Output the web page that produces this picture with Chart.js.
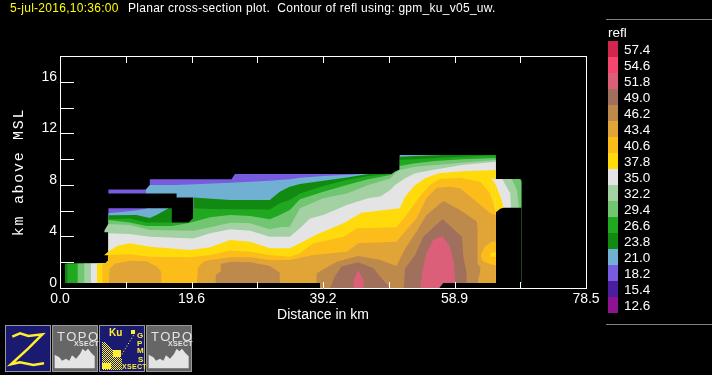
<!DOCTYPE html>
<html lang="en">
<head>
  <meta charset="UTF-8">
  <title>Planar cross-section</title>
  <script src="https://cdn.jsdelivr.net/npm/chart.js"></script>
  <style>
    html, body { margin: 0; background: #000; overflow: hidden; }
    canvas { display: block; }
  </style>
</head>
<body>
  <canvas id="xsect" width="712" height="375"></canvas>

  <script>
    // contour band tops as [distance km, height km]
    const purple18Top = [[7.2,7.65],[13.3,7.65],[13.4,8.43],[25.6,8.43],[26.1,8.84],[46.3,8.84]];
    const blue21Top = [[12.8,7.65],[13.4,7.99],[17.4,7.99],[25.4,8.17],[31.3,8.33],[34.3,8.43],[35.8,8.56],[39.3,8.69],[43.3,8.79],[44.8,8.84],[50.7,8.84],[50.7,10.32],[57.2,10.32]];
    const green23Top = [[19.9,7.03],[25.4,6.83],[31.3,6.83],[32.8,7.47],[34.3,7.86],[35.8,8.06],[39.3,8.33],[42.8,8.58],[46.0,8.84],[50.7,8.84],[50.7,10.19],[53.0,10.24],[57.2,10.32],[65.05,10.32]];
    const noDataUpper = [[7.15,7.34],[17.4,7.34],[17.4,7.03],[19.9,7.03]];
    const purple18Low = [[7.2,6.18],[13.4,6.18]];
    const blue21Low = [[7.2,5.79],[10.9,6.0],[13.4,6.18],[16.2,6.18]];
    const green23Low = [[7.2,5.64],[11.4,5.66],[13.4,5.43],[14.4,5.66],[16.2,6.18],[16.7,6.18]];
    const green26Top = [[7.2,5.33],[10.4,5.4],[12.9,5.09],[19.2,5.09],[19.9,5.46],[19.9,6.18],[22.4,6.13],[31.3,6.1],[32.8,6.57],[34.3,6.83],[35.8,7.34],[39.3,7.91],[42.8,8.38],[46.0,8.69],[49.3,8.84],[50.7,8.84],[50.7,9.93],[53.5,10.0],[57.5,10.13],[65.05,10.29]];
    const light29Top = [[7.2,5.28],[10.4,5.09],[12.9,4.81],[16.7,4.81],[19.4,5.07],[22.4,5.48],[25.4,5.66],[28.4,5.58],[31.3,5.33],[32.8,5.66],[34.3,6.05],[35.8,6.88],[39.3,7.47],[42.8,7.99],[46.0,8.43],[49.3,8.77],[50.0,9.03],[50.7,9.2],[50.7,9.46],[53.0,9.67],[56.0,9.85],[60.0,9.98],[65.05,10.09]];
    const pale32Top = [[6.6,4.45],[7.2,4.97],[10.4,4.89],[13.4,4.5],[19.9,4.45],[22.4,4.71],[25.4,5.07],[28.4,5.02],[31.3,4.55],[32.8,4.71],[34.3,4.76],[35.8,6.18],[39.3,6.96],[42.8,7.34],[46.0,7.99],[49.3,8.5],[50.0,8.9],[50.7,9.15],[53.0,9.41],[56.0,9.54],[60.0,9.72],[65.05,9.93]];
    const noDataTipHigh = [[6.5,4.32],[7.2,4.32]];
    const stripGreen23 = [[65.05,8.46],[68.9,8.46]];
    const stripLight29 = [[65.05,8.46],[68.6,8.46],[68.9,8.25]];
    const stripPale32 = [[65.05,8.46],[67.4,8.46],[68.2,7.6],[68.5,6.2]];
    const stripWhite35 = [[65.05,8.46],[66.0,8.46],[67.2,7.34],[67.3,6.2]];
    const white35Top = [[7.2,4.24],[10.4,4.19],[13.4,3.98],[19.9,3.85],[22.4,4.24],[25.4,4.55],[28.4,4.45],[31.3,3.98],[34.3,3.98],[35.8,4.63],[37.3,5.4],[39.3,5.66],[42.8,6.44],[46.0,6.96],[47.8,7.09],[49.3,7.6],[50.0,7.99],[51.5,8.51],[53.0,8.9],[56.0,9.2],[60.0,9.54],[65.05,9.8]];
    const yellow38Top = [[6.6,2.56],[7.2,2.82],[8.5,3.26],[10.4,3.47],[13.4,3.21],[19.4,2.95],[22.4,3.16],[25.4,3.72],[28.4,3.59],[31.3,3.08],[34.3,3.08],[35.8,3.47],[38.3,4.16],[42.3,5.02],[45.0,5.84],[50.7,6.18],[51.5,7.09],[53.0,7.99],[54.5,8.51],[56.5,8.9],[60.0,9.05],[65.05,9.15],[65.05,7.99],[65.9,6.83],[66.2,6.22]];
    const whiteTip35 = [[64.4,8.5],[65.05,8.46]];
    const yellowUnderTip = [[64.4,8.48],[65.05,7.99]];
    const noDataTipLow = [[6.5,2.54],[7.2,2.54]];
    const noDataRight = [[65.05,5.87],[65.7,6.15],[66.2,6.22],[68.9,6.22]];
    const leftGreen23 = [[0.75,1.91],[7.2,1.91]];
    const leftGreen26 = [[1.1,1.91],[7.2,1.91]];
    const leftLight29 = [[2.6,1.91],[7.2,1.91]];
    const leftPale32 = [[3.6,1.91],[7.2,1.91]];
    const leftWhite35 = [[4.6,1.91],[7.2,1.91]];
    const leftYellow38 = [[5.5,1.91],[7.2,1.91]];
    const leftOrange41 = [[6.3,1.91],[6.7,1.91],[7.1,2.12],[7.2,2.12]];
    const orange41Top = [[7.2,2.56],[10.4,2.61],[13.4,2.43],[19.4,2.38],[22.4,2.56],[25.4,2.9],[28.4,2.82],[31.3,2.56],[34.3,2.43],[35.8,2.69],[37.8,3.47],[42.3,3.98],[44.3,4.63],[50.2,4.71],[51.5,5.53],[53.7,7.09],[55.2,7.99],[56.7,8.46],[59.7,8.56],[62.7,8.25],[64.2,7.34],[65.05,5.87]];
    const tan43Top = [[7.3,0.3],[7.4,1.5],[8.2,1.88],[10.4,2.12],[12.9,2.07],[14.4,1.66],[15.1,1.27],[15.1,0.3],[20.4,0.3],[20.6,1.6],[21.4,2.04],[22.4,2.17],[25.4,2.38],[28.4,2.38],[31.3,2.17],[34.3,2.17],[37.8,2.56],[42.8,2.82],[44.5,3.47],[50.2,3.59],[51.7,4.5],[53.2,5.4],[54.7,6.96],[56.2,7.78],[58.2,7.86],[59.7,7.73],[62.2,6.7],[64.2,5.79],[65.05,5.66]];
    const brown46Top = [[23.2,0.3],[23.2,1.01],[23.9,1.27],[24.0,1.86],[25.4,2.04],[28.4,1.99],[31.3,1.71],[32.8,1.19],[32.8,0.3],[38.3,0.3],[38.3,1.14],[41.3,2.04],[44.5,2.48],[47.8,2.17],[50.2,1.71],[51.5,3.05],[53.2,4.37],[54.7,5.66],[57.2,6.75],[59.7,6.05],[62.2,5.15],[62.3,4.5],[62.3,1.92],[62.8,1.53],[62.8,0.1]];
    const bubbleOrangeTop = [[62.8,2.56],[63.4,3.21],[64.4,3.59],[65.05,3.59]];
    const bubbleYellowTop = [[64.2,2.69],[65.05,2.82]];
    const bubbleOrangeLow = [[64.2,2.43],[65.05,2.43]];
    const bubbleTanLow = [[62.2,0.1],[62.8,1.53],[62.8,2.43],[63.2,2.04],[64.7,1.78],[65.05,1.78]];
    const mauve49Top = [[40.3,0],[41.0,0.88],[42.0,1.66],[44.5,1.99],[46.8,1.53],[47.8,0.88],[49.3,0],[51.3,0],[51.5,1.53],[53.0,2.56],[54.2,3.98],[57.1,5.35],[60.0,3.98],[60.2,2.43],[60.7,1.14],[60.7,0]];
    const pink52Top = [[43.8,0],[43.8,0.62],[44.5,1.4],[45.3,0.62],[45.3,0],[53.8,0],[54.0,1.14],[54.7,2.69],[55.7,3.72],[57.1,4.04],[58.2,3.21],[58.8,1.91],[59.0,0]];
    const noDataFloorLeft = [[0,0.38],[38.8,0.38]];
    const noDataFloorRight = [[56.6,0],[57.2,0.38],[78.5,0.38]];

    const legendValues = ['57.4','54.6','51.8','49.0','46.2','43.4','40.6','37.8','35.0','32.2','29.4','26.6','23.8','21.0','18.2','15.4','12.6'];
    const legendColors = ['#d0284c','#f4466f','#dc5f7a','#a0705c','#bd8a4c','#e0a437','#fcbd1b','#ffdb0c','#e4e4e4','#a3d1a3','#72c672','#20a820','#128a12','#6fb0d3','#795be0','#4a1f9f','#8d1393'];
    const xTickValues = [0,9.81,19.63,29.44,39.25,49.06,58.88,68.69,78.5];
    const xTickLabels = ['0.0','','19.6','','39.2','','58.9','','78.5'];
    const yTickValues = [0,2,4,6,8,10,12,14,16];
    const yTickLabels = ['0','','4','','8','','12','','16'];

    const color = v => legendColors[legendValues.indexOf(v)];
    const black = '#000';

    // painted in this order, each one filled down to the floor over the last
    const layers = [
      [purple18Top, color('18.2')], [blue21Top, color('21.0')], [green23Top, color('23.8')],
      [noDataUpper, black],
      [purple18Low, color('18.2')], [blue21Low, color('21.0')], [green23Low, color('23.8')],
      [green26Top, color('26.6')], [light29Top, color('29.4')], [pale32Top, color('32.2')],
      [noDataTipHigh, black],
      [stripGreen23, color('23.8')], [stripLight29, color('29.4')], [stripPale32, color('32.2')],
      [white35Top, color('35.0')], [stripWhite35, color('35.0')], [yellow38Top, color('37.8')],
      [whiteTip35, color('35.0')], [yellowUnderTip, color('37.8')],
      [noDataTipLow, black], [noDataRight, black],
      [leftGreen23, color('23.8')], [leftGreen26, color('26.6')], [leftLight29, color('29.4')],
      [leftPale32, color('32.2')], [leftWhite35, color('35.0')], [leftYellow38, color('37.8')],
      [leftOrange41, color('40.6')], [orange41Top, color('40.6')], [tan43Top, color('43.4')],
      [brown46Top, color('46.2')], [bubbleOrangeTop, color('40.6')], [bubbleYellowTop, color('37.8')],
      [bubbleOrangeLow, color('40.6')], [bubbleTanLow, color('43.4')],
      [mauve49Top, color('49.0')], [pink52Top, color('51.8')],
      [noDataFloorLeft, black], [noDataFloorRight, black]
    ];

    const datasets = layers.map(([pts, c], i) => ({
      data: pts.map(p => ({ x: p[0], y: p[1] })),
      showLine: true,
      pointRadius: 0,
      borderWidth: 0,
      backgroundColor: c,
      fill: { value: 0 },
      order: layers.length - i
    }));

    function line(ctx, x1, y1, x2, y2, c) {
      ctx.strokeStyle = c;
      ctx.lineWidth = 1;
      ctx.beginPath();
      ctx.moveTo(x1, y1);
      ctx.lineTo(x2, y2);
      ctx.stroke();
    }

    function poly(ctx, pts, ox, oy) {
      ctx.beginPath();
      pts.forEach((p, i) => {
        const x = ox + p[0] / 3, y = oy + p[1] / 3;
        if (i === 0) ctx.moveTo(x, y); else ctx.lineTo(x, y);
      });
    }

    function topoIcon(ctx, x) {
      ctx.fillStyle = '#666';
      ctx.fillRect(x, 325, 46, 47);
      ctx.strokeStyle = '#999';
      ctx.lineWidth = 1;
      ctx.strokeRect(x + 0.5, 325.5, 45, 46);
      ctx.fillStyle = '#e4e4e4';
      poly(ctx, [[8,151],[8,110],[22,118],[30,128],[42,122],[52,128],[60,112],[72,122],[84,108],[92,92],[100,100],[108,92],[118,105],[128,115],[128,151]], x, 318);
      ctx.fill();
      ctx.font = '13px "Liberation Sans"';
      ctx.letterSpacing = '1.5px';
      ctx.textAlign = 'left';
      ctx.textBaseline = 'middle';
      ctx.fillText('TOPO', x + 5, 337);
      ctx.font = 'bold 7px "Liberation Sans"';
      ctx.letterSpacing = '0.3px';
      ctx.fillText('XSECT', x + 22, 344);
      ctx.letterSpacing = '0px';
    }

    function drawIcons(ctx) {
      // Z button
      ctx.fillStyle = '#1a1a70';
      ctx.fillRect(5, 325, 46, 47);
      ctx.strokeStyle = '#999';
      ctx.lineWidth = 1;
      ctx.strokeRect(5.5, 325.5, 45, 46);
      ctx.strokeStyle = '#ffef30';
      ctx.lineWidth = 2.5;
      poly(ctx, [[37,65],[60,55],[85,63],[127,58],[85,100],[33,148],[60,142],[100,150],[132,145]], 0, 315);
      ctx.stroke();

      topoIcon(ctx, 52);

      // GPM Ku button
      ctx.fillStyle = '#1a1a70';
      ctx.fillRect(99, 325, 46, 47);
      ctx.strokeStyle = '#999';
      ctx.lineWidth = 1;
      ctx.strokeRect(99.5, 325.5, 45, 46);
      ctx.fillStyle = '#ffef30';
      for (let y = 342; y < 370; y += 1) {
        for (let x = 102; x < 122; x += 1) {
          if ((x + y) % 2 === 0 && x - 102 < (y - 340) * 1.1) ctx.fillRect(x, y, 1, 1);
        }
      }
      ctx.fillRect(102, 363, 9, 6);
      ctx.fillRect(113, 350, 8, 7);
      for (let i = 0; i < 9; i++) ctx.fillRect(120 + i * 1.6, 356 - i * 2.6, 1, 1);
      ctx.fillRect(131, 330, 4, 4);
      ctx.font = 'bold 10px "Liberation Sans"';
      ctx.textAlign = 'left';
      ctx.textBaseline = 'middle';
      ctx.fillText('Ku', 109, 333);
      ctx.font = 'bold 8px "Liberation Sans"';
      ctx.fillText('G', 137, 336);
      ctx.fillText('P', 137, 344);
      ctx.fillText('M', 137, 351);
      ctx.fillText('S', 138, 360);
      ctx.font = 'bold 7px "Liberation Sans"';
      ctx.letterSpacing = '0.3px';
      ctx.fillText('XSECT', 122, 367);
      ctx.letterSpacing = '0px';

      topoIcon(ctx, 146);
    }

    const framePlugin = {
      id: 'frame',
      afterDraw(chart) {
        const ctx = chart.ctx;
        const { left, right, top, bottom } = chart.chartArea;
        const xs = chart.scales.x, ys = chart.scales.y;
        ctx.save();

        // plot box and inward ticks
        line(ctx, left + 0.5, top + 0.5, right + 0.5, top + 0.5, '#fff');
        line(ctx, left + 0.5, bottom + 0.5, right + 0.5, bottom + 0.5, '#fff');
        line(ctx, left + 0.5, top, left + 0.5, bottom + 1, '#fff');
        line(ctx, right + 0.5, top, right + 0.5, bottom + 1, '#fff');
        xTickValues.slice(1, -1).forEach(v => {
          const x = Math.round(xs.getPixelForValue(v)) + 0.5;
          line(ctx, x, top, x, top + 7, '#fff');
          line(ctx, x, bottom, x, bottom - 6, '#fff');
        });
        yTickValues.slice(1).forEach(v => {
          const y = Math.round(ys.getPixelForValue(v)) + 0.5;
          line(ctx, left, y, left + 14, y, '#fff');
        });

        // heading
        ctx.textBaseline = 'middle';
        ctx.textAlign = 'left';
        ctx.font = '12px "Liberation Sans"';
        ctx.letterSpacing = '0.28px';
        ctx.fillStyle = '#ffff00';
        ctx.fillText('5-jul-2016,10:36:00', 10, 9);
        ctx.fillStyle = '#fff';
        ctx.fillText('Planar cross-section plot.  Contour of refl using: gpm_ku_v05_uw.', 128, 9);
        ctx.letterSpacing = '0px';

        // y axis title
        ctx.save();
        ctx.translate(19, 172);
        ctx.rotate(-Math.PI / 2);
        ctx.textAlign = 'center';
        ctx.font = '15px "Liberation Mono"';
        ctx.letterSpacing = '1.7px';
        ctx.fillText('km above MSL', 0, 0);
        ctx.restore();

        // colour key
        line(ctx, 606, 19.5, 712, 19.5, '#808080');
        line(ctx, 606, 324.5, 712, 324.5, '#808080');
        ctx.fillStyle = '#fff';
        ctx.font = '13.5px "Liberation Sans"';
        ctx.fillText('refl', 608, 33);
        legendValues.forEach((v, i) => {
          ctx.fillStyle = legendColors[i];
          ctx.fillRect(608, 41 + i * 16, 10, 16);
          ctx.fillStyle = '#fff';
          ctx.fillText(v, 624, 50 + i * 16);
        });

        drawIcons(ctx);
        ctx.restore();
      }
    };

    new Chart(document.getElementById('xsect'), {
      type: 'scatter',
      data: { datasets: datasets },
      plugins: [framePlugin],
      options: {
        responsive: false,
        animation: false,
        events: [],
        layout: { padding: { top: 56, right: 126, left: 0, bottom: 0 } },
        plugins: { legend: { display: false }, tooltip: { enabled: false } },
        scales: {
          x: {
            type: 'linear',
            min: 0,
            max: 78.5,
            grid: { display: false, drawTicks: false },
            border: { display: false },
            afterFit: s => { s.height = 87; },
            afterBuildTicks: s => { s.ticks = xTickValues.map(v => ({ value: v })); },
            ticks: {
              autoSkip: false,
              maxRotation: 0,
              color: '#fff',
              padding: 3,
              font: { family: 'Liberation Sans', size: 14 },
              callback: (v, i) => xTickLabels[i]
            },
            title: {
              display: true,
              text: 'Distance in km',
              color: '#fff',
              padding: { top: 1, bottom: 51 },
              font: { family: 'Liberation Sans', size: 14 }
            }
          },
          y: {
            type: 'linear',
            min: 0,
            max: 18,
            grid: { display: false, drawTicks: false },
            border: { display: false },
            afterFit: s => { s.width = 60; },
            afterBuildTicks: s => { s.ticks = yTickValues.map(v => ({ value: v })); },
            ticks: {
              autoSkip: false,
              color: '#fff',
              padding: 3,
              labelOffset: -5,
              font: { family: 'Liberation Sans', size: 14 },
              callback: (v, i) => yTickLabels[i]
            }
          }
        }
      }
    });
  </script>
</body>
</html>
